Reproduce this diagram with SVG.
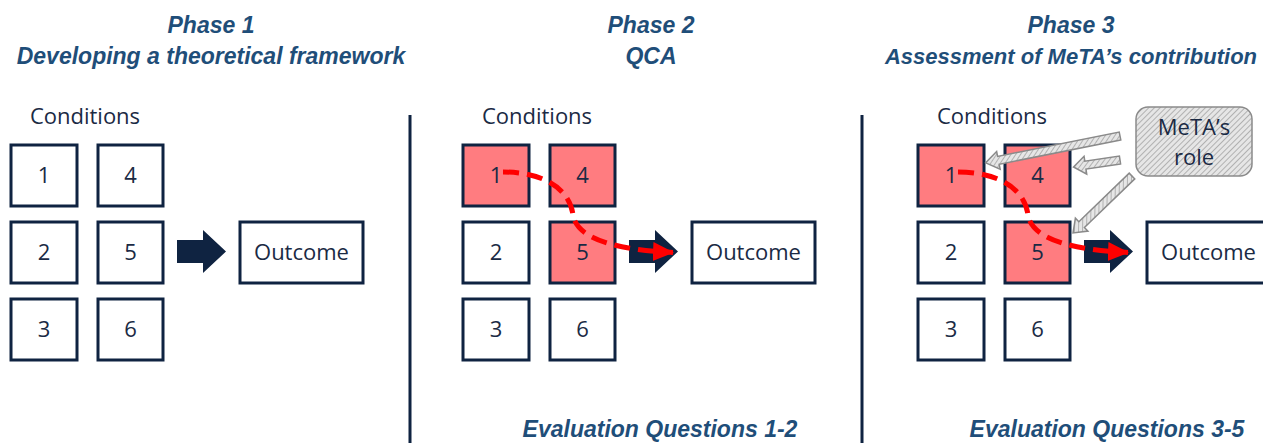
<svg xmlns="http://www.w3.org/2000/svg" width="1263" height="443" viewBox="0 0 1263 443">
<style>
.title{font-family:"Liberation Sans",Arial,sans-serif;font-weight:bold;font-style:italic;font-size:23px;fill:#1f4e79;text-anchor:middle}
.lbl{font-family:"Open Sans","Liberation Sans",sans-serif;font-size:22px;fill:#1a2a44;text-anchor:middle}
.box{fill:#fff;stroke:#0f2341;stroke-width:3}
.on{fill:#ff7c80}
.blk{fill:#0f2341}
.div{stroke:#0f2341;stroke-width:3}
.path{fill:none;stroke:#ff0000;stroke-width:5;stroke-dasharray:16 8}
.hatch{fill:url(#hp);stroke:#8a8a8a;stroke-width:1.5}
</style>
<defs>
<pattern id="hp" width="4" height="4" patternUnits="userSpaceOnUse" patternTransform="rotate(45)">
<rect width="4" height="4" fill="#e6e6e6"/>
<line x1="0" y1="0" x2="0" y2="4" stroke="#9a9a9a" stroke-width="1.4"/>
</pattern>
<marker id="rh" markerWidth="5" markerHeight="5" refX="4" refY="2" orient="auto" markerUnits="strokeWidth">
<path d="M0,0.1 L4.2,2 L0,3.9 Z" fill="#ff0000"/>
</marker>
<polygon id="bigArrow" class="blk" points="177,240 203,240 203,230 226,251.5 203,273 203,263 177,263"/>
</defs>

<g id="titles">
<text class="title" x="211" y="33">Phase 1</text>
<text class="title" x="211" y="64">Developing a theoretical framework</text>
<text class="title" x="651" y="33">Phase 2</text>
<text class="title" x="651" y="64">QCA</text>
<text class="title" x="1071" y="33">Phase 3</text>
<text class="title" x="1071" y="64" style="font-size:22px">Assessment of MeTA’s contribution</text>
<text class="title" x="660" y="437">Evaluation Questions 1-2</text>
<text class="title" x="1107" y="437">Evaluation Questions 3-5</text>
</g>

<g id="dividers">
<line class="div" x1="410" y1="115" x2="410" y2="443"/>
<line class="div" x1="862" y1="115" x2="862" y2="443"/>
</g>

<g id="phase1">
<text class="lbl" x="85" y="124">Conditions</text>
<g id="p1-c1"><rect class="box" x="11" y="145" width="66" height="61"/><text class="lbl" x="44" y="183">1</text></g>
<g id="p1-c4"><rect class="box" x="98" y="145" width="65" height="61"/><text class="lbl" x="130.5" y="183">4</text></g>
<g id="p1-c2"><rect class="box" x="11" y="222" width="66" height="61"/><text class="lbl" x="44" y="260">2</text></g>
<g id="p1-c5"><rect class="box" x="98" y="222" width="65" height="61"/><text class="lbl" x="130.5" y="260">5</text></g>
<g id="p1-c3"><rect class="box" x="11" y="299" width="66" height="61"/><text class="lbl" x="44" y="337">3</text></g>
<g id="p1-c6"><rect class="box" x="98" y="299" width="65" height="61"/><text class="lbl" x="130.5" y="337">6</text></g>
<g id="p1-out"><rect class="box" x="240" y="222" width="123" height="61"/><text class="lbl" x="301.5" y="260">Outcome</text></g>
</g>

<g id="phase2" transform="translate(452,0)">
<text class="lbl" x="85" y="124">Conditions</text>
<g id="p2-c1"><rect class="box on" x="11" y="145" width="66" height="61"/><text class="lbl" x="44" y="183">1</text></g>
<g id="p2-c4"><rect class="box on" x="98" y="145" width="65" height="61"/><text class="lbl" x="130.5" y="183">4</text></g>
<g id="p2-c2"><rect class="box" x="11" y="222" width="66" height="61"/><text class="lbl" x="44" y="260">2</text></g>
<g id="p2-c5"><rect class="box on" x="98" y="222" width="65" height="61"/><text class="lbl" x="130.5" y="260">5</text></g>
<g id="p2-c3"><rect class="box" x="11" y="299" width="66" height="61"/><text class="lbl" x="44" y="337">3</text></g>
<g id="p2-c6"><rect class="box" x="98" y="299" width="65" height="61"/><text class="lbl" x="130.5" y="337">6</text></g>
<g id="p2-out"><rect class="box" x="240" y="222" width="123" height="61"/><text class="lbl" x="301.5" y="260">Outcome</text></g>
</g>

<g id="phase3" transform="translate(907,0)">
<text class="lbl" x="85" y="124">Conditions</text>
<g id="p3-c1"><rect class="box on" x="11" y="145" width="66" height="61"/><text class="lbl" x="44" y="183">1</text></g>
<g id="p3-c4"><rect class="box on" x="98" y="145" width="65" height="61"/><text class="lbl" x="130.5" y="183">4</text></g>
<g id="p3-c2"><rect class="box" x="11" y="222" width="66" height="61"/><text class="lbl" x="44" y="260">2</text></g>
<g id="p3-c5"><rect class="box on" x="98" y="222" width="65" height="61"/><text class="lbl" x="130.5" y="260">5</text></g>
<g id="p3-c3"><rect class="box" x="11" y="299" width="66" height="61"/><text class="lbl" x="44" y="337">3</text></g>
<g id="p3-c6"><rect class="box" x="98" y="299" width="65" height="61"/><text class="lbl" x="130.5" y="337">6</text></g>
<g id="p3-out"><rect class="box" x="240" y="222" width="130" height="61"/><text class="lbl" x="301.5" y="260">Outcome</text></g>
</g>

<g id="meta-role">
<rect x="1136" y="107" width="116" height="69" rx="12" ry="12" fill="url(#hp)" stroke="#8a8a8a" stroke-width="1.5"/>
<text class="lbl" x="1194" y="135">MeTA’s</text>
<text class="lbl" x="1194" y="165">role</text>
</g>

<g id="connectors">
<use href="#bigArrow"/>
<use href="#bigArrow" transform="translate(452,0)"/>
<use href="#bigArrow" transform="translate(907,0)"/>
<path class="path" d="M503,172 C545,172 570,190 573,215 C577,240 620,250 673,252.5" marker-end="url(#rh)"/>
<path class="path" d="M958,172 C1000,172 1025,190 1028,215 C1032,240 1075,250 1128,252.5" marker-end="url(#rh)"/>
<polygon class="hatch" transform="translate(1120,136) rotate(168.7)" points="0,-4 124,-4 124,-9 137,0 124,9 124,4 0,4"/>
<polygon class="hatch" transform="translate(1120,160) rotate(171.5)" points="0,-4 35,-4 35,-9 47,0 35,9 35,4 0,4"/>
<polygon class="hatch" transform="translate(1132,176) rotate(136)" points="0,-4 70,-4 70,-9 82,0 70,9 70,4 0,4"/>
</g>
</svg>
